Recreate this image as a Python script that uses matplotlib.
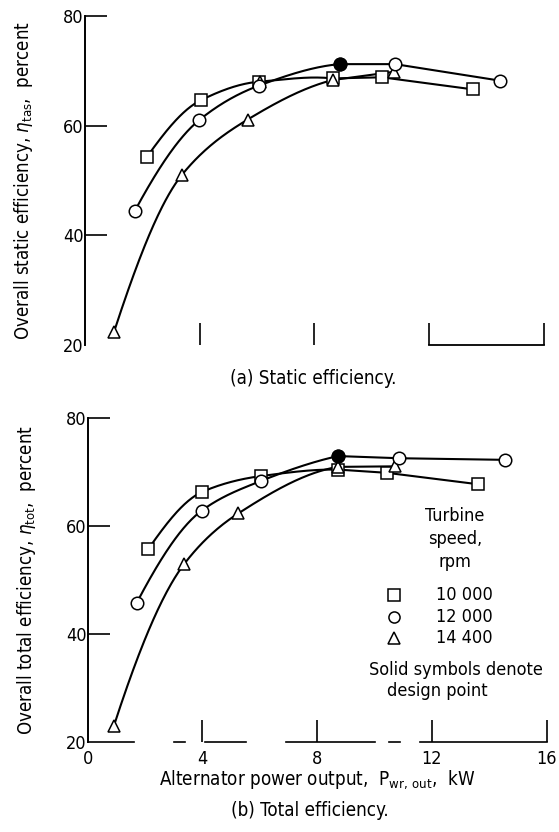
import matplotlib
matplotlib.use("Agg")
import matplotlib.pyplot as plt
import numpy as np

plt.rcParams["font.family"] = ["DejaVu Sans"]
plt.rcParams["font.stretch"] = "condensed"
plt.rcParams["mathtext.fontset"] = "dejavusans"

# (a) static efficiency, percent, vs alternator power output, kW
sq_a_x = [2.16, 4.03, 6.07, 8.63, 10.36, 13.53]
sq_a_y = [54.3, 64.6, 68.0, 68.6, 68.8, 66.6]
ci_a_x = [1.73, 3.98, 6.07, 8.88, 10.81, 14.46]
ci_a_y = [44.4, 61.0, 67.3, 71.2, 71.2, 68.2]
tr_a_x = [1.01, 3.39, 5.67, 6.10, 8.63, 10.76]
tr_a_y = [22.4, 51.1, 61.1, 68.0, 68.3, 69.8]

# (b) total efficiency, percent
sq_b_x = [2.11, 4.00, 6.04, 8.72, 10.43, 13.59]
sq_b_y = [55.7, 66.3, 69.2, 70.4, 69.8, 67.7]
ci_b_x = [1.71, 3.97, 6.04, 8.72, 10.85, 14.54]
ci_b_y = [45.8, 62.8, 68.3, 72.9, 72.5, 72.2]
tr_b_x = [0.91, 3.37, 5.25, 8.72, 10.70]
tr_b_y = [23.0, 53.0, 62.3, 70.9, 71.0]

# index of the design point (solid symbol) in the 12 000 rpm series
design_idx = 3

speeds = ["10 000", "12 000", "14 400"]
x_ticks = [0, 4, 8, 12, 16]
y_ticks = [20, 40, 60, 80]

LW = 1.5
MS = 9
MEW = 1.1
FS = 13


def pchip(x, y, xx):
    """Shape-preserving cubic (Fritsch-Carlson) through the given points."""
    x = np.asarray(x, float)
    y = np.asarray(y, float)
    h = np.diff(x)
    d = np.diff(y) / h
    m = np.zeros_like(y)
    for k in range(1, len(x) - 1):
        if d[k - 1] * d[k] > 0:
            w1 = 2 * h[k] + h[k - 1]
            w2 = h[k] + 2 * h[k - 1]
            m[k] = (w1 + w2) / (w1 / d[k - 1] + w2 / d[k])
    m[0] = ((2 * h[0] + h[1]) * d[0] - h[0] * d[1]) / (h[0] + h[1])
    m[-1] = ((2 * h[-1] + h[-2]) * d[-1] - h[-1] * d[-2]) / (h[-1] + h[-2])
    idx = np.clip(np.searchsorted(x, xx) - 1, 0, len(x) - 2)
    t = (xx - x[idx]) / h[idx]
    h00 = 2 * t**3 - 3 * t**2 + 1
    h10 = t**3 - 2 * t**2 + t
    h01 = -2 * t**3 + 3 * t**2
    h11 = t**3 - t**2
    return (h00 * y[idx] + h10 * h[idx] * m[idx]
            + h01 * y[idx + 1] + h11 * h[idx] * m[idx + 1])


def faired(ax, xs, ys, curve_idx, tail_idx):
    """Smooth curve through the low-power points, straight lines after."""
    cx = [xs[i] for i in curve_idx]
    cy = [ys[i] for i in curve_idx]
    xx = np.linspace(cx[0], cx[-1], 200)
    ax.plot(xx, pchip(cx, cy, xx), color="black", lw=LW,
            solid_capstyle="round")
    ax.plot([xs[i] for i in tail_idx], [ys[i] for i in tail_idx],
            color="black", lw=LW)


def symbols(ax, xs, ys, marker, solid=None):
    ax.plot(xs, ys, ls="none", marker=marker, ms=MS, mfc="white",
            mec="black", mew=MEW, clip_on=False, zorder=5)
    if solid is not None:
        ax.plot([xs[solid]], [ys[solid]], ls="none", marker=marker, ms=MS,
                mfc="black", mec="black", mew=MEW, clip_on=False, zorder=6)


def frame(ax, ylabel):
    ax.set_xlim(0, 16)
    ax.set_ylim(20, 80)
    for s in ("top", "right", "bottom"):
        ax.spines[s].set_visible(False)
    ax.spines["left"].set_linewidth(1.4)
    ax.set_yticks(y_ticks)
    ax.set_xticks(x_ticks)
    ax.tick_params(axis="y", direction="in", length=16, width=1.2, pad=1,
                   labelsize=FS)
    ax.tick_params(axis="x", direction="in", length=16, width=1.2, pad=6,
                   labelsize=FS)
    ax.yaxis.get_major_ticks()[0].tick1line.set_visible(False)
    ax.xaxis.get_major_ticks()[0].tick1line.set_visible(False)
    ax.set_ylabel(ylabel, fontsize=13.4, labelpad=20)


fig = plt.figure(figsize=(5.59, 8.32), dpi=100)
ax_a = fig.add_axes([0.152, 0.585, 0.821, 0.396])
ax_b = fig.add_axes([0.157, 0.108, 0.821, 0.390])

# ---- (a) static efficiency
frame(ax_a, r"Overall static efficiency, $\eta_{\mathrm{tas}}$,  percent")
ax_a.tick_params(axis="x", labelbottom=False)
ax_a.plot([12, 16], [20, 20], color="black", lw=1.3, clip_on=False)
faired(ax_a, sq_a_x, sq_a_y, [0, 1, 2, 3], [3, 4, 5])
faired(ax_a, ci_a_x, ci_a_y, [0, 1, 2, 3], [3, 4, 5])
faired(ax_a, tr_a_x, tr_a_y, [0, 1, 2, 4], [4, 5])
symbols(ax_a, sq_a_x, sq_a_y, "s")
symbols(ax_a, tr_a_x, tr_a_y, "^")
symbols(ax_a, ci_a_x, ci_a_y, "o", solid=design_idx)
fig.text(0.56, 0.545, "(a) Static efficiency.", ha="center", va="center",
         fontsize=13.5)

# ---- (b) total efficiency
frame(ax_b, r"Overall total efficiency, $\eta_{\mathrm{tot}}$,  percent")
ax_b.set_xticklabels([str(v) for v in x_ticks])
# broken baseline as printed
for x0, x1 in [(0, 1.6), (3.0, 3.4), (4.1, 5.5), (6.9, 10.0), (10.5, 10.9),
               (11.6, 16)]:
    ax_b.plot([x0, x1], [20, 20], color="black", lw=1.2, clip_on=False)
faired(ax_b, sq_b_x, sq_b_y, [0, 1, 2, 3], [3, 4, 5])
faired(ax_b, ci_b_x, ci_b_y, [0, 1, 2, 3], [3, 4, 5])
faired(ax_b, tr_b_x, tr_b_y, [0, 1, 2, 3], [3, 4])
symbols(ax_b, sq_b_x, sq_b_y, "s")
symbols(ax_b, tr_b_x, tr_b_y, "^")
symbols(ax_b, ci_b_x, ci_b_y, "o", solid=design_idx)
ax_b.set_xlabel(r"Alternator power output,  $\mathrm{P_{wr,\,out}}$,  kW",
                fontsize=13.5, labelpad=0)

# key
ax_b.text(12.8, 61.9, "Turbine", ha="center", va="center", fontsize=FS)
ax_b.text(12.8, 57.6, "speed,", ha="center", va="center", fontsize=FS)
ax_b.text(12.8, 53.3, "rpm", ha="center", va="center", fontsize=FS)
for yk, mk, lab in zip([47.3, 43.2, 39.2], ["s", "o", "^"], speeds):
    ax_b.plot([10.67], [yk], ls="none", marker=mk, ms=8, mfc="white",
              mec="black", mew=MEW)
    ax_b.text(12.15, yk, lab, ha="left", va="center", fontsize=FS)
ax_b.text(12.85, 33.4, "Solid symbols denote", ha="center", va="center",
          fontsize=FS)
ax_b.text(12.2, 29.4, "design point", ha="center", va="center", fontsize=FS)

fig.text(0.555, 0.026, "(b) Total efficiency.", ha="center", va="center",
         fontsize=13.5)

fig.savefig("out.png", dpi=100)
